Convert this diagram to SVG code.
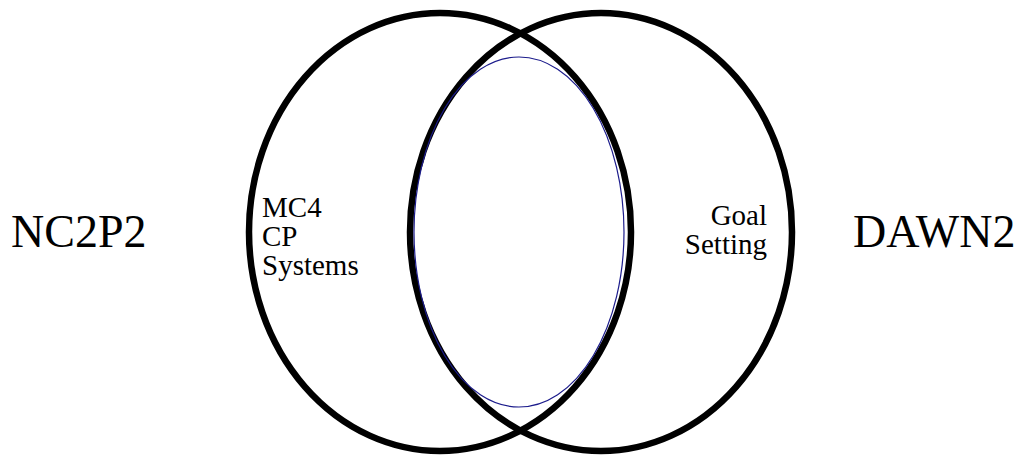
<svg xmlns="http://www.w3.org/2000/svg" width="1027" height="457" viewBox="0 0 1027 457">
<style>
.big{fill:none;stroke:#000;stroke-width:6.5}
.inner{fill:none;stroke:#1c1c8c;stroke-width:1.2}
.t{font-family:"Liberation Serif","DejaVu Serif",serif;font-size:46px;fill:#000}
.s{font-family:"Liberation Serif","DejaVu Serif",serif;font-size:29px;fill:#000}
</style>
<rect width="1027" height="457" fill="#fff"/>
<g id="left-circle"><ellipse class="big" cx="440" cy="232" rx="191" ry="219"/></g>
<g id="right-circle"><ellipse class="big" cx="601" cy="232" rx="191" ry="219"/></g>
<g id="overlap"><ellipse class="inner" cx="519" cy="232" rx="105" ry="175"/></g>
<g id="left-label"><text class="s" x="262" y="217" font-family="Liberation Serif, serif">MC4</text><text class="s" x="262" y="246" font-family="Liberation Serif, serif">CP</text><text class="s" x="262" y="275" font-family="Liberation Serif, serif">Systems</text></g>
<g id="right-label"><text class="s" x="767" y="225" text-anchor="end" font-family="Liberation Serif, serif">Goal</text><text class="s" x="767" y="254" text-anchor="end" font-family="Liberation Serif, serif">Setting</text></g>
<g id="nc2p2"><text class="t" x="11" y="247" font-family="Liberation Serif, serif">NC2P2</text></g>
<g id="dawn2"><text class="t" x="853" y="247" font-family="Liberation Serif, serif">DAWN2</text></g>
</svg>
